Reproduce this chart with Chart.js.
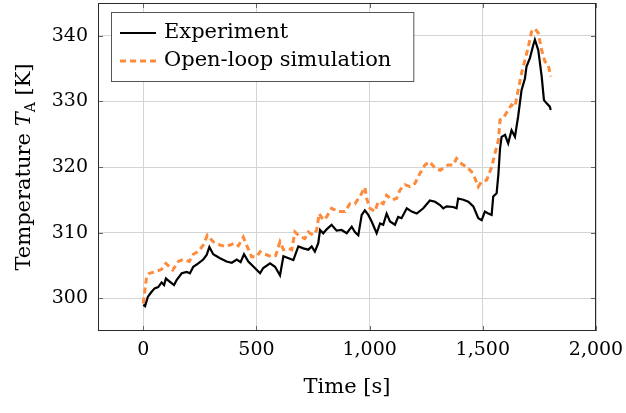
<!DOCTYPE html>
<html>
<head>
<meta charset="utf-8">
<script src="https://cdn.jsdelivr.net/npm/chart.js@4.4.1/dist/chart.umd.min.js"></script>
<style>
    html, body { margin: 0; padding: 0; background: #fff; }
</style>
</head>
<body>
<canvas id="tempChart" width="626" height="413"></canvas>
<script>
// ----------------------
//  DATA
// ----------------------
const expTime = [0, 8, 20, 35, 50, 66, 81, 92, 100, 118, 136, 148, 170, 192, 206, 221, 243, 265, 280, 292,
    309, 339, 368, 391, 413, 430, 445, 464, 493, 516, 530, 560, 582, 604, 619, 648, 663, 685, 707, 729,
    744, 758, 773, 781, 795, 810, 832, 854, 876, 899, 921, 935, 950, 965, 979, 994, 1009, 1031, 1046, 1060,
    1075, 1090, 1112, 1126, 1141, 1164, 1186, 1208, 1237, 1266, 1289, 1311, 1325, 1340, 1369, 1384, 1391, 1414, 1436, 1458,
    1480, 1495, 1509, 1524, 1539, 1546, 1561, 1569, 1576, 1583, 1598, 1612, 1627, 1642, 1656, 1671, 1686, 1693, 1708, 1723,
    1730, 1745, 1760, 1770, 1782, 1796, 1800];
const expTemp = [299.0, 298.8, 300.2, 300.9, 301.5, 301.7, 302.4, 302.0, 303.0, 302.5, 302.0, 302.8, 303.8, 304.0, 303.8, 304.8, 305.3, 305.9, 306.6, 307.8,
    306.7, 306.1, 305.6, 305.4, 305.9, 305.5, 306.7, 305.6, 304.6, 303.8, 304.6, 305.3, 304.8, 303.5, 306.4, 306.0, 305.8, 307.9, 307.6, 307.4,
    307.9, 307.1, 308.4, 310.4, 309.9, 310.5, 311.2, 310.3, 310.4, 309.9, 310.9, 310.1, 309.6, 312.7, 313.4, 312.7, 311.7, 309.9, 311.4, 311.2,
    312.9, 311.7, 311.2, 312.4, 312.2, 313.7, 313.2, 312.9, 313.7, 314.9, 314.7, 314.2, 313.7, 314.0, 313.9, 313.7, 315.2, 315.0, 314.7, 314.0,
    312.2, 311.9, 313.2, 312.9, 312.7, 315.5, 316.0, 319.0, 322.8, 324.6, 324.9, 323.6, 325.6, 324.6, 327.7, 331.7, 333.5, 335.3, 336.6, 338.6,
    339.4, 337.8, 333.8, 330.2, 329.7, 329.2, 328.7];

const simTime = [0, 7, 15, 27, 50, 81, 100, 130, 155, 177, 203, 221, 243, 265, 283, 309, 339, 361, 383, 405,
    420, 442, 455, 479, 501, 516, 538, 568, 585, 604, 619, 641, 656, 670, 692, 714, 729, 751, 766, 777,
    795, 810, 832, 861, 891, 913, 935, 957, 979, 987, 1001, 1023, 1038, 1060, 1075, 1097, 1119, 1134, 1156, 1178,
    1200, 1222, 1244, 1266, 1289, 1311, 1325, 1347, 1369, 1384, 1406, 1428, 1450, 1465, 1480, 1495, 1517, 1539, 1554, 1569,
    1576, 1590, 1612, 1627, 1642, 1656, 1671, 1686, 1701, 1715, 1730, 1745, 1760, 1774, 1789, 1800];
const simTemp = [299.2, 301.2, 303.3, 303.8, 304.0, 304.4, 305.3, 304.3, 305.6, 305.9, 305.6, 306.7, 307.1, 308.1, 309.6, 308.6, 308.1, 307.9, 308.1, 308.4,
    308.0, 309.3, 308.2, 306.3, 306.3, 307.1, 306.7, 306.3, 306.5, 308.6, 307.4, 307.6, 307.4, 310.1, 309.4, 309.1, 310.1, 309.6, 310.4, 312.9,
    311.9, 312.4, 313.7, 313.2, 313.2, 314.4, 314.4, 315.5, 316.9, 315.2, 313.7, 313.2, 314.7, 314.4, 315.7, 315.0, 315.2, 316.5, 317.3, 317.0,
    317.5, 319.0, 320.3, 320.8, 319.8, 319.5, 319.8, 320.3, 320.3, 321.3, 320.5, 320.0, 319.3, 318.3, 317.0, 317.8, 318.0, 320.0, 322.1, 324.1,
    327.2, 327.4, 328.7, 329.5, 329.2, 331.7, 334.3, 336.3, 338.3, 340.6, 341.1, 340.4, 337.8, 336.1, 335.6, 333.8];

const seriesLabels = ['Experiment', 'Open-loop simulation'];
const xTicks = [0, 500, 1000, 1500, 2000];
const yTicks = [300, 310, 320, 330, 340];

// ----------------------
//  STYLE
// ----------------------
const serif = "'DejaVu Serif', serif";
const orange = '#fe8a3c';

function toPoints(xs, ys) {
    return xs.map((x, i) => ({ x: x, y: ys[i] }));
}

// keep the plot box where the reference has it
function noScalePadding(scale) {
    scale.paddingTop = 0;
    scale.paddingBottom = 0;
    scale.paddingLeft = 0;
    scale.paddingRight = 0;
}

// frame, inner tick marks, legend and the y title (italic T with subscript A)
const decorations = {
    id: 'decorations',
    afterDraw(chart) {
        const { ctx, chartArea: a, scales: { x, y } } = chart;
        ctx.save();

        // tick marks on all four sides
        ctx.strokeStyle = '#666';
        ctx.lineWidth = 1;
        ctx.beginPath();
        xTicks.forEach(v => {
            const px = Math.round(x.getPixelForValue(v)) + 0.5;
            ctx.moveTo(px, a.bottom); ctx.lineTo(px, a.bottom - 5);
            ctx.moveTo(px, a.top); ctx.lineTo(px, a.top + 5);
        });
        yTicks.forEach(v => {
            const py = Math.round(y.getPixelForValue(v)) + 0.5;
            ctx.moveTo(a.left, py); ctx.lineTo(a.left + 5, py);
            ctx.moveTo(a.right, py); ctx.lineTo(a.right - 5, py);
        });
        ctx.stroke();

        // axis box
        ctx.strokeStyle = '#2b2b2b';
        ctx.strokeRect(a.left + 0.5, a.top + 0.5, a.width - 1, a.height - 1);

        // legend
        ctx.font = '21px ' + serif;
        const textX = a.left + 66;
        const w = Math.max(...seriesLabels.map(s => ctx.measureText(s).width));
        const box = { x: a.left + 13, y: a.top + 9, w: textX - (a.left + 13) + w + 22, h: 69 };
        ctx.fillStyle = '#fff';
        ctx.fillRect(box.x, box.y, box.w, box.h);
        ctx.strokeStyle = '#555';
        ctx.strokeRect(box.x + 0.5, box.y + 0.5, box.w, box.h);
        chart.data.datasets.forEach((ds, i) => {
            const cy = box.y + 21 + i * 28;
            ctx.beginPath();
            ctx.strokeStyle = ds.borderColor;
            ctx.lineWidth = ds.borderWidth;
            ctx.setLineDash(ds.borderDash || []);
            ctx.moveTo(a.left + 22, cy);
            ctx.lineTo(a.left + 58, cy);
            ctx.stroke();
            ctx.setLineDash([]);
            ctx.fillStyle = '#000';
            ctx.textBaseline = 'middle';
            ctx.textAlign = 'left';
            ctx.fillText(ds.label, textX, cy);
        });

        // y title
        const parts = [
            { t: 'Temperature ', f: '21px ' + serif, dy: 0 },
            { t: 'T', f: 'italic 21px ' + serif, dy: 0 },
            { t: 'A', f: '14px ' + serif, dy: 5 },
            { t: ' [K]', f: '21px ' + serif, dy: 0 },
        ];
        let total = 0;
        parts.forEach(p => { ctx.font = p.f; p.w = ctx.measureText(p.t).width; total += p.w; });
        ctx.translate(22, (a.top + a.bottom) / 2);
        ctx.rotate(-Math.PI / 2);
        ctx.fillStyle = '#000';
        ctx.textBaseline = 'alphabetic';
        ctx.textAlign = 'left';
        let cx = -total / 2;
        parts.forEach(p => {
            ctx.font = p.f;
            ctx.fillText(p.t, cx, 8 + p.dy);
            cx += p.w;
        });
        ctx.restore();
    }
};

// ----------------------
//  CHART
// ----------------------
const ctx = document.getElementById('tempChart').getContext('2d');
const tempChart = new Chart(ctx, {
    type: 'line',
    data: {
        datasets: [{
            label: seriesLabels[0],
            data: toPoints(expTime, expTemp),
            borderColor: '#000',
            borderWidth: 2.2,
        }, {
            label: seriesLabels[1],
            data: toPoints(simTime, simTemp),
            borderColor: orange,
            borderWidth: 3,
            borderDash: [6, 4],
        }]
    },
    options: {
        responsive: false,
        devicePixelRatio: 1,
        animation: false,
        layout: { padding: { top: 3, right: 30, left: 0, bottom: 0 } },
        elements: {
            point: { radius: 0 },
            line: { tension: 0, fill: false },
        },
        plugins: {
            legend: { display: false },
            tooltip: { enabled: false },
        },
        scales: {
            x: {
                type: 'linear',
                min: -200,
                max: 2000,
                afterBuildTicks: scale => { scale.ticks = xTicks.map(v => ({ value: v })); },
                afterFit: scale => { scale.height = 82; noScalePadding(scale); },
                grid: { color: '#d4d4d4', drawTicks: false },
                border: { display: false },
                ticks: {
                    padding: 8,
                    color: '#000',
                    font: { family: serif, size: 19 },
                    maxRotation: 0,
                    callback: value => value.toLocaleString('en-US'),
                },
                title: {
                    display: true,
                    text: 'Time [s]',
                    color: '#000',
                    font: { family: serif, size: 21 },
                    padding: { top: 0, bottom: 13 },
                },
            },
            y: {
                type: 'linear',
                min: 295,
                max: 345,
                afterBuildTicks: scale => { scale.ticks = yTicks.map(v => ({ value: v })); },
                afterFit: scale => { scale.width = 98; noScalePadding(scale); },
                grid: { color: '#d4d4d4', drawTicks: false },
                border: { display: false },
                ticks: {
                    padding: 10,
                    color: '#000',
                    font: { family: serif, size: 19 },
                },
            },
        },
    },
    plugins: [decorations],
});
</script>
</body>
</html>
